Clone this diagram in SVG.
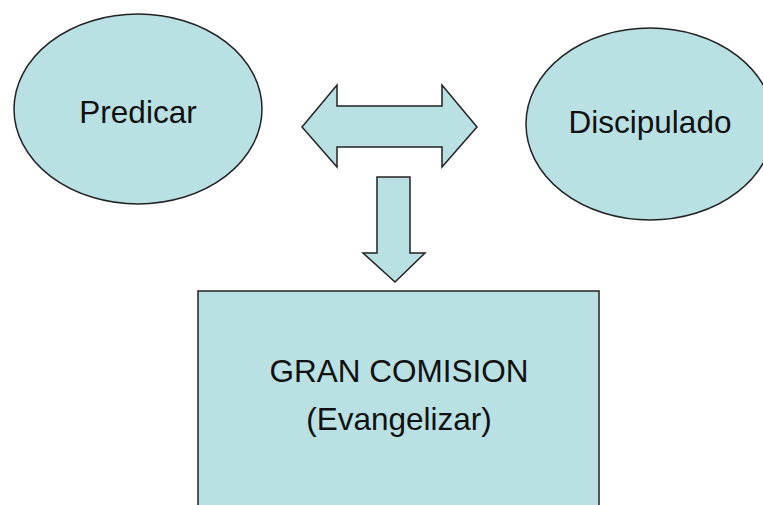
<svg xmlns="http://www.w3.org/2000/svg" width="763" height="505" viewBox="0 0 763 505">
<style>
.shape{fill:#B9E0E3;stroke:#222;stroke-width:1.5}
.lbl{font-family:"Liberation Sans",Arial,sans-serif;font-size:31.5px;fill:#111;text-anchor:middle}
</style>
<rect width="763" height="505" fill="#fff"/>
<g id="predicar">
<ellipse class="shape" cx="138" cy="109" rx="124" ry="95"/>
<text class="lbl" x="138" y="123">Predicar</text>
</g>
<g id="discipulado">
<ellipse class="shape" cx="650" cy="124" rx="124" ry="96"/>
<text class="lbl" x="650" y="133">Discipulado</text>
</g>
<g id="gran-comision">
<rect class="shape" x="198" y="291" width="401" height="230"/>
<text class="lbl" x="399" y="382">GRAN COMISION</text>
<text class="lbl" x="399" y="430">(Evangelizar)</text>
</g>
<g id="connectors">
<path class="shape" d="M302,127 L337,85 L337,106 L442,106 L442,85 L477,127 L442,167 L442,147 L337,147 L337,167 Z"/>
<path class="shape" d="M377,177 L410,177 L410,253 L425,253 L395,282 L363,253 L377,253 Z"/>
</g>
</svg>
